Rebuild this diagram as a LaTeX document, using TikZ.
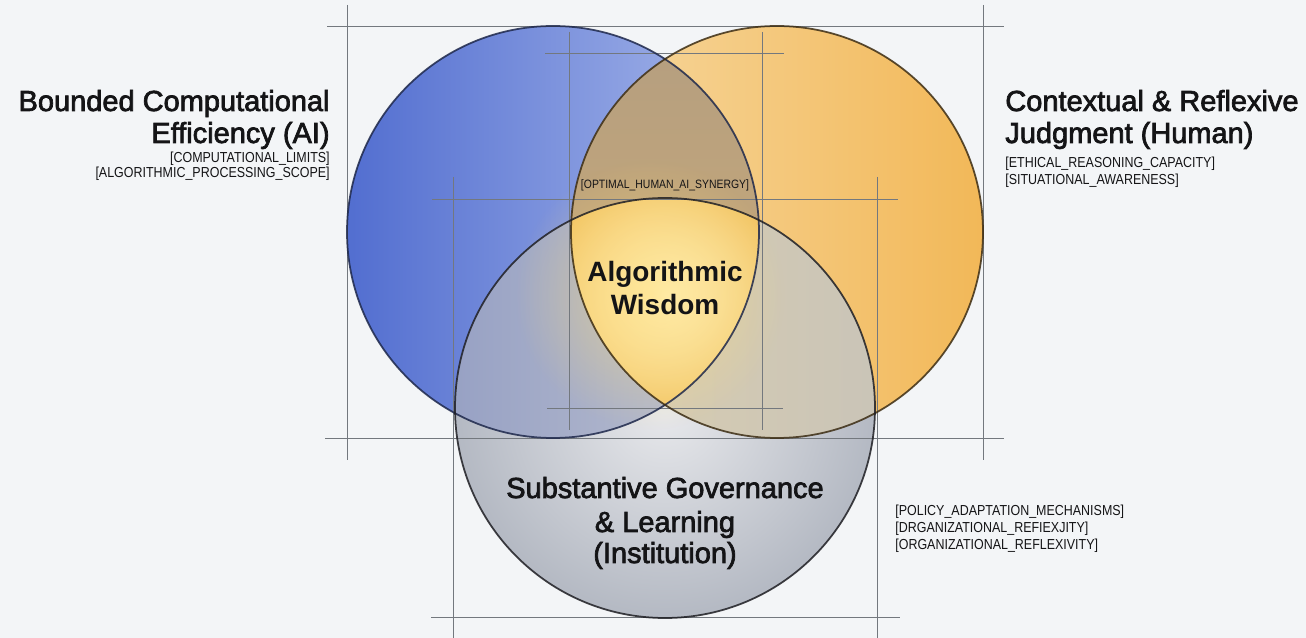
\documentclass[tikz,border=0pt]{standalone}
\usepackage{fontspec}
\setmainfont{Liberation Sans}
\newfontfamily\tagfont[FakeStretch=0.86]{Liberation Sans}
\usetikzlibrary{fadings}

\definecolor{bgcol}{RGB}{243,245,247}
\definecolor{inkcol}{RGB}{20,20,22}
\definecolor{guidecol}{RGB}{115,120,126}
\definecolor{blueL}{RGB}{82,110,208}
\definecolor{blueR}{RGB}{168,184,234}
\definecolor{orngL}{RGB}{246,216,160}
\definecolor{orngR}{RGB}{242,184,88}
\definecolor{lensT}{RGB}{180,158,128}
\definecolor{lensB}{RGB}{205,172,118}
\definecolor{grayI}{RGB}{232,233,236}
\definecolor{grayO}{RGB}{180,185,195}
\definecolor{gbL}{RGB}{138,150,192}
\definecolor{gbR}{RGB}{190,194,208}
\definecolor{goL}{RGB}{218,206,176}
\definecolor{goR}{RGB}{196,193,186}
\definecolor{coreI}{RGB}{255,246,205}
\definecolor{coreO}{RGB}{240,188,82}
\definecolor{glowY}{RGB}{255,222,120}

\tikzfading[name=glowfade, inner color=transparent!0, outer color=transparent!100]

% slightly heavier strokes for the headings
\newcommand\medweight{\special{pdf:literal 2 Tr 0.4 w}}

\tikzset{
  guide/.style={draw=guidecol, line width=0.45pt},
  ring/.style={line width=1pt, opacity=0.85},
  title/.style={font=\fontsize{16.5}{19}\selectfont, text=inkcol, inner sep=0pt,
    execute at begin node=\medweight},
  core/.style={font=\bfseries\fontsize{15.9}{19}\selectfont, text=inkcol, inner sep=0pt},
  tag/.style={font=\tagfont\fontsize{8.25}{9.7}\selectfont, text=inkcol, inner sep=0pt},
}

\begin{document}
\begin{tikzpicture}[x=0.02cm, y=-0.02cm]
\useasboundingbox (0,0) rectangle (1306,638);
\fill[bgcol] (0,0) rectangle (1306,638);

\coordinate (ai) at (553,232);
\coordinate (hu) at (777,232);
\coordinate (gov) at (665,408);
\def\rad{206}
\def\radg{210}

% the two upper circles
\shade[left color=blueL, right color=blueR] (ai) circle[radius=\rad];
\shade[left color=orngL, right color=orngR] (hu) circle[radius=\rad];
\begin{scope}
\clip (ai) circle[radius=\rad];
\shade[top color=lensT, bottom color=lensB] (hu) circle[radius=\rad];
\end{scope}

% institution circle and its overlaps
\shade[inner color=grayI, outer color=grayO] (gov) circle[radius=\radg];
\begin{scope}
\clip (gov) circle[radius=\radg];
\shade[left color=gbL, right color=gbR] (ai) circle[radius=\rad];
\shade[left color=goL, right color=goR] (hu) circle[radius=\rad];
\clip (ai) circle[radius=\rad];
\clip (hu) circle[radius=\rad];
\shade[inner color=coreI, outer color=coreO] (665,295) circle[radius=140];
\end{scope}
\fill[glowY, path fading=glowfade, opacity=0.55] (650,295) circle[radius=135];

% construction lines
\draw[guide] (327,26) -- (1004,26);
\draw[guide] (325,438) -- (1004,438);
\draw[guide] (545,53) -- (784,53);
\draw[guide] (547,408) -- (783,408);
\draw[guide] (432,199) -- (898,199);
\draw[guide] (431,617) -- (900,617);
\foreach \gx in {347,983} \draw[guide] (\gx,5) -- (\gx,460);
\foreach \gx in {569,762} \draw[guide] (\gx,32) -- (\gx,430);
\foreach \gx in {453,877} \draw[guide] (\gx,177) -- (\gx,638);

% outlines
\draw[ring, draw={rgb,255:red,30;green,40;blue,75}] (ai) circle[radius=\rad];
\draw[ring, draw={rgb,255:red,60;green,45;blue,20}] (hu) circle[radius=\rad];
\draw[ring, draw={rgb,255:red,30;green,30;blue,35}] (gov) circle[radius=\radg];

% labels
\node[title, anchor=base east] (aiA) at (330,111) {Bounded Computational};
\node[title, anchor=base east] (aiB) at (330,143) {Efficiency (AI)};
\node[tag, anchor=base east] (aiT1) at (330,163) {[COMPUTATIONAL\_LIMITS]};
\node[tag, anchor=base east] (aiT2) at (330,178) {[ALGORITHMIC\_PROCESSING\_SCOPE]};

\node[title, anchor=base west] (huA) at (1005,111) {Contextual \& Reflexive};
\node[title, anchor=base west] (huB) at (1005,143) {Judgment (Human)};
\node[tag, anchor=base west] (huT1) at (1005,168) {[ETHICAL\_REASONING\_CAPACITY]};
\node[tag, anchor=base west] (huT2) at (1005,185) {[SITUATIONAL\_AWARENESS]};

\node[tag, anchor=base, font=\tagfont\fontsize{6.9}{8}\selectfont] (syn) at (665,189) {[OPTIMAL\_HUMAN\_AI\_SYNERGY]};
\node[core, anchor=base] (wisA) at (665,282) {Algorithmic};
\node[core, anchor=base] (wisB) at (665,315) {Wisdom};

\node[title, anchor=base] (govA) at (665,498) {Substantive Governance};
\node[title, anchor=base] (govB) at (665,532) {\& Learning};
\node[title, anchor=base] (govC) at (665,563) {(Institution)};
\node[tag, anchor=base west] (govT1) at (895,516) {[POLICY\_ADAPTATION\_MECHANISMS]};
\node[tag, anchor=base west] (govT2) at (895,533) {[DRGANIZATIONAL\_REFIEXJITY]};
\node[tag, anchor=base west] (govT3) at (895,550) {[ORGANIZATIONAL\_REFLEXIVITY]};
\end{tikzpicture}
\end{document}
